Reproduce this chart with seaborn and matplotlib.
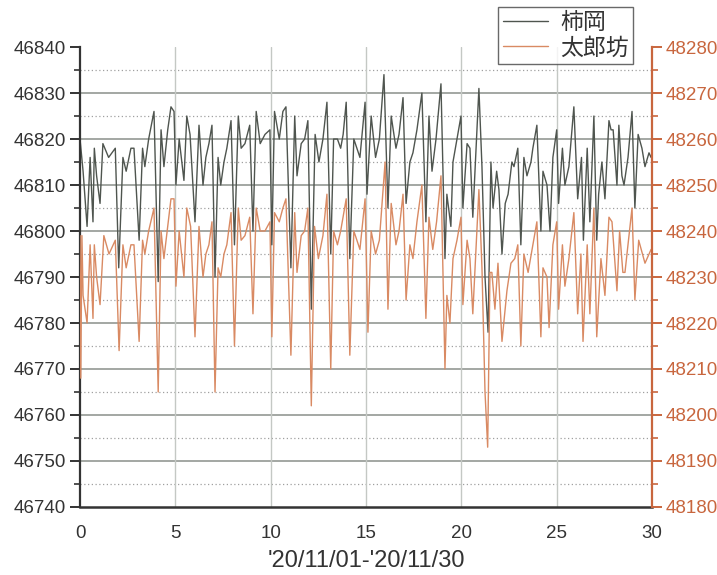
import matplotlib
matplotlib.use("Agg")
import matplotlib.pyplot as plt
import seaborn as sns
from matplotlib.ticker import MultipleLocator

# 柿岡 (left axis, nT)
kakioka_day = [0.0, 0.16, 0.37, 0.53, 0.68, 0.75, 0.87, 1.05, 1.2, 1.5, 1.85, 2.03, 2.25, 2.42, 2.67, 2.83,
               3.1, 3.28, 3.4, 3.6, 3.88, 4.1, 4.25, 4.4, 4.6, 4.77, 4.93, 5.03, 5.2, 5.45, 5.6, 5.77,
               6.03, 6.24, 6.45, 6.6, 6.76, 6.92, 7.08, 7.24, 7.38, 7.55, 7.7, 7.92, 8.1, 8.3, 8.45, 8.65,
               8.9, 9.07, 9.24, 9.45, 9.7, 9.96, 10.06, 10.2, 10.45, 10.64, 10.8, 11.06, 11.26, 11.38, 11.6,
               11.78, 11.95, 12.13, 12.33, 12.53, 12.74, 12.95, 13.15, 13.3, 13.5, 13.67, 13.8, 13.96, 14.15,
               14.36, 14.68, 14.95, 15.05, 15.27, 15.5, 15.7, 15.94, 16.15, 16.32, 16.57, 16.73, 16.94, 17.1,
               17.3, 17.46, 17.67, 17.93, 18.14, 18.3, 18.46, 18.67, 18.93, 19.14, 19.24, 19.45, 19.56, 19.77,
               19.98, 20.08, 20.3, 20.45, 20.6, 20.92, 21.08, 21.24, 21.4, 21.55, 21.66, 21.85, 21.97, 22.13,
               22.3, 22.45, 22.65, 22.76, 22.96, 23.12, 23.28, 23.44, 23.65, 23.75, 23.96, 24.17, 24.28, 24.49,
               24.65, 24.8, 25.0, 25.1, 25.3, 25.43, 25.64, 25.9, 26.1, 26.3, 26.4, 26.6, 26.74, 26.95, 27.1,
               27.2, 27.37, 27.53, 27.74, 27.85, 27.96, 28.16, 28.26, 28.42, 28.53, 28.74, 28.95, 29.1, 29.27,
               29.47, 29.63, 29.84, 29.95]
kakioka_nt = [46820, 46813, 46801, 46816, 46802, 46818, 46812, 46806, 46819, 46816, 46818, 46792, 46816, 46813, 46818, 46818,
              46798, 46818, 46814, 46820, 46826, 46789, 46822, 46814, 46822, 46827, 46826, 46810, 46820, 46811, 46825, 46821,
              46802, 46823, 46810, 46816, 46819, 46823, 46790, 46816, 46810, 46815, 46818, 46824, 46797, 46825, 46818, 46819,
              46823, 46800, 46826, 46819, 46821, 46822, 46797, 46826, 46820, 46826, 46827, 46792, 46825, 46812, 46819,
              46820, 46824, 46783, 46821, 46815, 46820, 46828, 46795, 46820, 46820, 46818, 46821, 46828, 46794,
              46820, 46816, 46828, 46808, 46825, 46816, 46820, 46834, 46805, 46825, 46818, 46821, 46829, 46806,
              46815, 46817, 46822, 46830, 46802, 46825, 46813, 46820, 46832, 46794, 46808, 46801, 46815, 46820,
              46825, 46805, 46819, 46818, 46803, 46831, 46814, 46790, 46778, 46815, 46805, 46813, 46809, 46795,
              46806, 46808, 46815, 46814, 46818, 46797, 46816, 46812, 46815, 46818, 46823, 46800, 46813, 46810,
              46800, 46816, 46822, 46806, 46818, 46810, 46814, 46827, 46807, 46816, 46798, 46818, 46802, 46825, 46798,
              46808, 46815, 46807, 46824, 46822, 46822, 46810, 46823, 46812, 46810, 46816, 46826, 46805, 46821,
              46818, 46814, 46817, 46816]

# 太郎坊 (right axis, nT)
taroubou_day = [0.0, 0.04, 0.1, 0.16, 0.37, 0.53, 0.68, 0.75, 0.87, 1.05, 1.25, 1.52, 1.85, 2.05, 2.25, 2.42, 2.67,
                2.83, 3.1, 3.28, 3.4, 3.6, 3.88, 4.1, 4.25, 4.4, 4.6, 4.77, 4.93, 5.03, 5.2, 5.45, 5.6, 5.8,
                6.03, 6.24, 6.45, 6.6, 6.76, 6.92, 7.08, 7.24, 7.38, 7.55, 7.7, 7.92, 8.1, 8.3, 8.45, 8.65,
                8.9, 9.07, 9.24, 9.45, 9.7, 9.96, 10.06, 10.2, 10.45, 10.64, 10.8, 11.06, 11.26, 11.38, 11.6,
                11.78, 11.95, 12.13, 12.3, 12.5, 12.74, 12.95, 13.15, 13.3, 13.5, 13.67, 13.96, 14.15, 14.36,
                14.68, 14.95, 15.1, 15.27, 15.5, 15.7, 16.0, 16.15, 16.32, 16.57, 16.73, 16.94, 17.1, 17.3,
                17.46, 17.67, 17.93, 18.14, 18.3, 18.5, 18.7, 18.93, 19.14, 19.24, 19.4, 19.56, 19.77, 19.98,
                20.08, 20.3, 20.45, 20.6, 20.92, 21.08, 21.24, 21.38, 21.5, 21.6, 21.76, 21.92, 22.13, 22.39,
                22.6, 22.8, 22.96, 23.12, 23.28, 23.5, 23.75, 23.96, 24.17, 24.28, 24.49, 24.6, 24.8, 25.0,
                25.1, 25.3, 25.43, 25.64, 25.9, 26.1, 26.27, 26.38, 26.6, 26.74, 26.95, 27.1, 27.32, 27.53,
                27.74, 27.9, 28.16, 28.3, 28.47, 28.58, 28.74, 28.95, 29.1, 29.3, 29.5, 29.63, 29.95]
taroubou_nt = [48239, 48208, 48239, 48226, 48220, 48237, 48221, 48237, 48230, 48224, 48239, 48235, 48238, 48214, 48237, 48232, 48237,
               48237, 48216, 48238, 48235, 48240, 48245, 48205, 48240, 48234, 48241, 48247, 48247, 48228, 48240, 48230, 48245, 48241,
               48217, 48241, 48230, 48235, 48237, 48242, 48205, 48232, 48230, 48235, 48237, 48244, 48215, 48245, 48238, 48239,
               48243, 48222, 48245, 48240, 48240, 48242, 48217, 48244, 48242, 48245, 48247, 48213, 48244, 48231, 48239,
               48240, 48245, 48202, 48241, 48234, 48239, 48248, 48210, 48240, 48237, 48240, 48247, 48213, 48240,
               48236, 48247, 48218, 48240, 48235, 48238, 48255, 48223, 48246, 48237, 48240, 48248, 48225, 48237,
               48234, 48242, 48250, 48221, 48243, 48236, 48242, 48252, 48210, 48226, 48220, 48234, 48238, 48243,
               48224, 48238, 48234, 48222, 48249, 48232, 48205, 48193, 48231, 48231, 48223, 48233, 48216, 48227,
               48233, 48234, 48237, 48215, 48235, 48231, 48237, 48242, 48217, 48232, 48230, 48219, 48237, 48242,
               48223, 48237, 48228, 48234, 48244, 48222, 48235, 48216, 48237, 48222, 48245, 48217, 48234, 48226,
               48243, 48242, 48227, 48240, 48231, 48231, 48237, 48245, 48225, 48238, 48235, 48233, 48236]

sns.set_style("white")
plt.rcParams['font.family'] = ['Liberation Sans', 'Noto Sans CJK JP', 'DejaVu Sans']

dark = "#4f554f"
orange = "#d98a63"
orange_axis = "#c8663e"

fig = plt.figure(figsize=(7.17, 5.75), dpi=100)
ax = fig.add_axes([0.1116, 0.1183, 0.7978, 0.7999])
ax2 = ax.twinx()

# grid
for v in range(46750, 46840, 10):
    ax.axhline(v, color="#8a8f8a", lw=1.1, zorder=0)
for v in range(46745, 46840, 10):
    ax.axhline(v, color="#a0a0a0", lw=0.9, ls=(0, (1, 2)), zorder=0)
for d in range(5, 30, 5):
    ax.axvline(d, color="#c4c8c4", lw=1.0, zorder=0)

sns.lineplot(x=kakioka_day, y=kakioka_nt, ax=ax, color=dark, lw=1.0, label="柿岡", legend=False)
sns.lineplot(x=taroubou_day, y=taroubou_nt, ax=ax2, color=orange, lw=1.0, label="太郎坊", legend=False)

ax.set_xlim(0, 30)
ax.set_ylim(46740, 46840)
ax2.set_ylim(48180, 48280)
ax.xaxis.set_major_locator(MultipleLocator(5))
ax.xaxis.set_minor_locator(MultipleLocator(2.5))
ax.yaxis.set_major_locator(MultipleLocator(10))
ax.yaxis.set_minor_locator(MultipleLocator(5))
ax2.yaxis.set_major_locator(MultipleLocator(10))
ax2.yaxis.set_minor_locator(MultipleLocator(5))

for a in (ax, ax2):
    a.spines['top'].set_visible(False)
ax.spines['right'].set_visible(False)
ax.spines['left'].set_color("#333333")
ax.spines['bottom'].set_color("#333333")
ax.spines['left'].set_linewidth(1.6)
ax.spines['bottom'].set_linewidth(1.8)
ax2.spines['left'].set_visible(False)
ax2.spines['bottom'].set_visible(False)
ax2.spines['right'].set_color(orange_axis)
ax2.spines['right'].set_linewidth(1.6)

ax.tick_params(axis='both', which='major', direction='out', length=7, width=1.4,
               color="#333333", labelsize=13.5, labelcolor="#333333")
ax.tick_params(axis='both', which='minor', direction='out', length=4, width=1.2, color="#333333")
ax.tick_params(axis='x', pad=6)
ax.tick_params(axis='y', pad=3)
ax2.tick_params(axis='y', which='major', direction='out', length=7, width=1.4, pad=3,
                color=orange_axis, labelsize=13.5, labelcolor=orange_axis)
ax2.tick_params(axis='y', which='minor', direction='out', length=4, width=1.2, color=orange_axis)

ax.set_xlabel("'20/11/01-'20/11/30", fontsize=17, color="#333333", labelpad=6)
ax.set_ylabel("")
ax2.set_ylabel("")

h1, l1 = ax.get_legend_handles_labels()
h2, l2 = ax2.get_legend_handles_labels()
leg = ax.legend(h1 + h2, l1 + l2, loc="upper right", bbox_to_anchor=(0.967, 1.088),
                borderaxespad=0, fontsize=16.5, frameon=True, fancybox=False,
                handlelength=2.0, handletextpad=0.5, borderpad=0.2, labelspacing=0.1)
leg.get_frame().set_edgecolor("#444444")
leg.get_frame().set_linewidth(1.0)
for t in leg.get_texts():
    t.set_color("#333333")
leg.set_zorder(10)

fig.savefig("out.png", dpi=100)
